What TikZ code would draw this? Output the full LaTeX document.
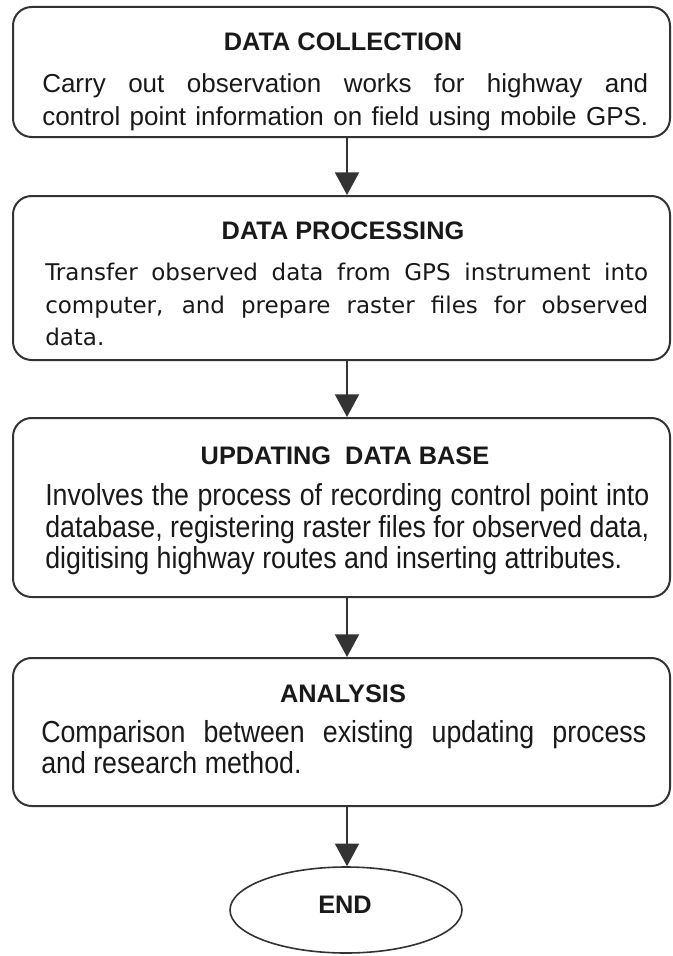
\documentclass[tikz,border=0pt]{standalone}
\usepackage{fontspec}
\setmainfont{Liberation Sans}
\newfontfamily\dvfont{DejaVu Sans}
\newfontfamily\narrowfont[FakeStretch=0.88]{Liberation Sans}
\usetikzlibrary{arrows.meta,shapes.geometric}
\newcommand\jline[2]{\makebox[#1][s]{#2}}
\begin{document}
\begin{tikzpicture}[x=0.75pt,y=-0.75pt,
  box/.style={draw=black!80, line width=1.5pt, rounded corners=14pt, inner sep=0pt, minimum width=492.75pt},
  endnode/.style={ellipse, draw=black!80, line width=1.2pt, inner sep=0pt, minimum width=174pt, minimum height=64.5pt},
  title/.style={anchor=base, inner sep=0pt, text=black!90, font=\fontsize{19}{22}\selectfont\bfseries},
  bodyA/.style={anchor=base west, inner sep=0pt, text=black!90, font=\fontsize{19.5}{24}\selectfont},
  bodyB/.style={anchor=base west, inner sep=0pt, text=black!90, font=\dvfont\fontsize{17.25}{24}\selectfont},
  bodyC/.style={anchor=base west, inner sep=0pt, text=black!90, font=\narrowfont\fontsize{22.8}{24}\selectfont},
  arr/.style={draw=black!80, line width=1.5pt, -{Triangle[width=18pt,length=17pt]}}]
\useasboundingbox (0,0) rectangle (673,956);
\fill[white] (0,0) rectangle (673,956);

% boxes
\node[box, minimum height=97.5pt] (b1) at (341.5,72) {};
\node[box, minimum height=123pt] (b2) at (341.5,278) {};
\node[box, minimum height=134.25pt] (b3) at (341.5,507.5) {};
\node[box, minimum height=111pt] (b4) at (341.5,732) {};
\node[endnode] (e) at (346,910) {};

% box 1
\node[title] (h1) at (343,51) {DATA COLLECTION};
\node[bodyA] (t1a) at (42,93) {\jline{454.5pt}{Carry out observation works for highway and}};
\node[bodyA] (t1b) at (42,125) {\jline{454.5pt}{control point information on field using mobile GPS.}};

% box 2
\node[title] (h2) at (343,239) {DATA PROCESSING};
\node[bodyB] (t2a) at (45,280) {\jline{452.25pt}{Transfer observed data from GPS instrument into}};
\node[bodyB] (t2b) at (45,313) {\jline{452.25pt}{computer, and prepare raster files for observed}};
\node[bodyB] (t2c) at (45,345) {data.};

% box 3
\node[title] (h3) at (345,464) {UPDATING\ \ DATA BASE};
\node[bodyC] (t3a) at (45,505) {\jline{453pt}{Involves the process of recording control point into}};
\node[bodyC] (t3b) at (45,537) {\jline{453pt}{database, registering raster files for observed data,}};
\node[bodyC] (t3c) at (45,568) {digitising highway routes and inserting attributes.};

% box 4
\node[title] (h4) at (343,702) {ANALYSIS};
\node[bodyC] (t4a) at (41,742) {\jline{453.75pt}{Comparison between existing updating process}};
\node[bodyC] (t4b) at (41,773) {and research method.};

% end
\node[title] (h5) at (345,913) {END};

% arrows
\coordinate (ax) at (347,0);
\draw[arr] (b1.south -| ax) -- (b2.north -| ax);
\draw[arr] (b2.south -| ax) -- (b3.north -| ax);
\draw[arr] (b3.south -| ax) -- (b4.north -| ax);
\draw[arr] (b4.south -| ax) -- (e.north -| ax);
\end{tikzpicture}
\end{document}
